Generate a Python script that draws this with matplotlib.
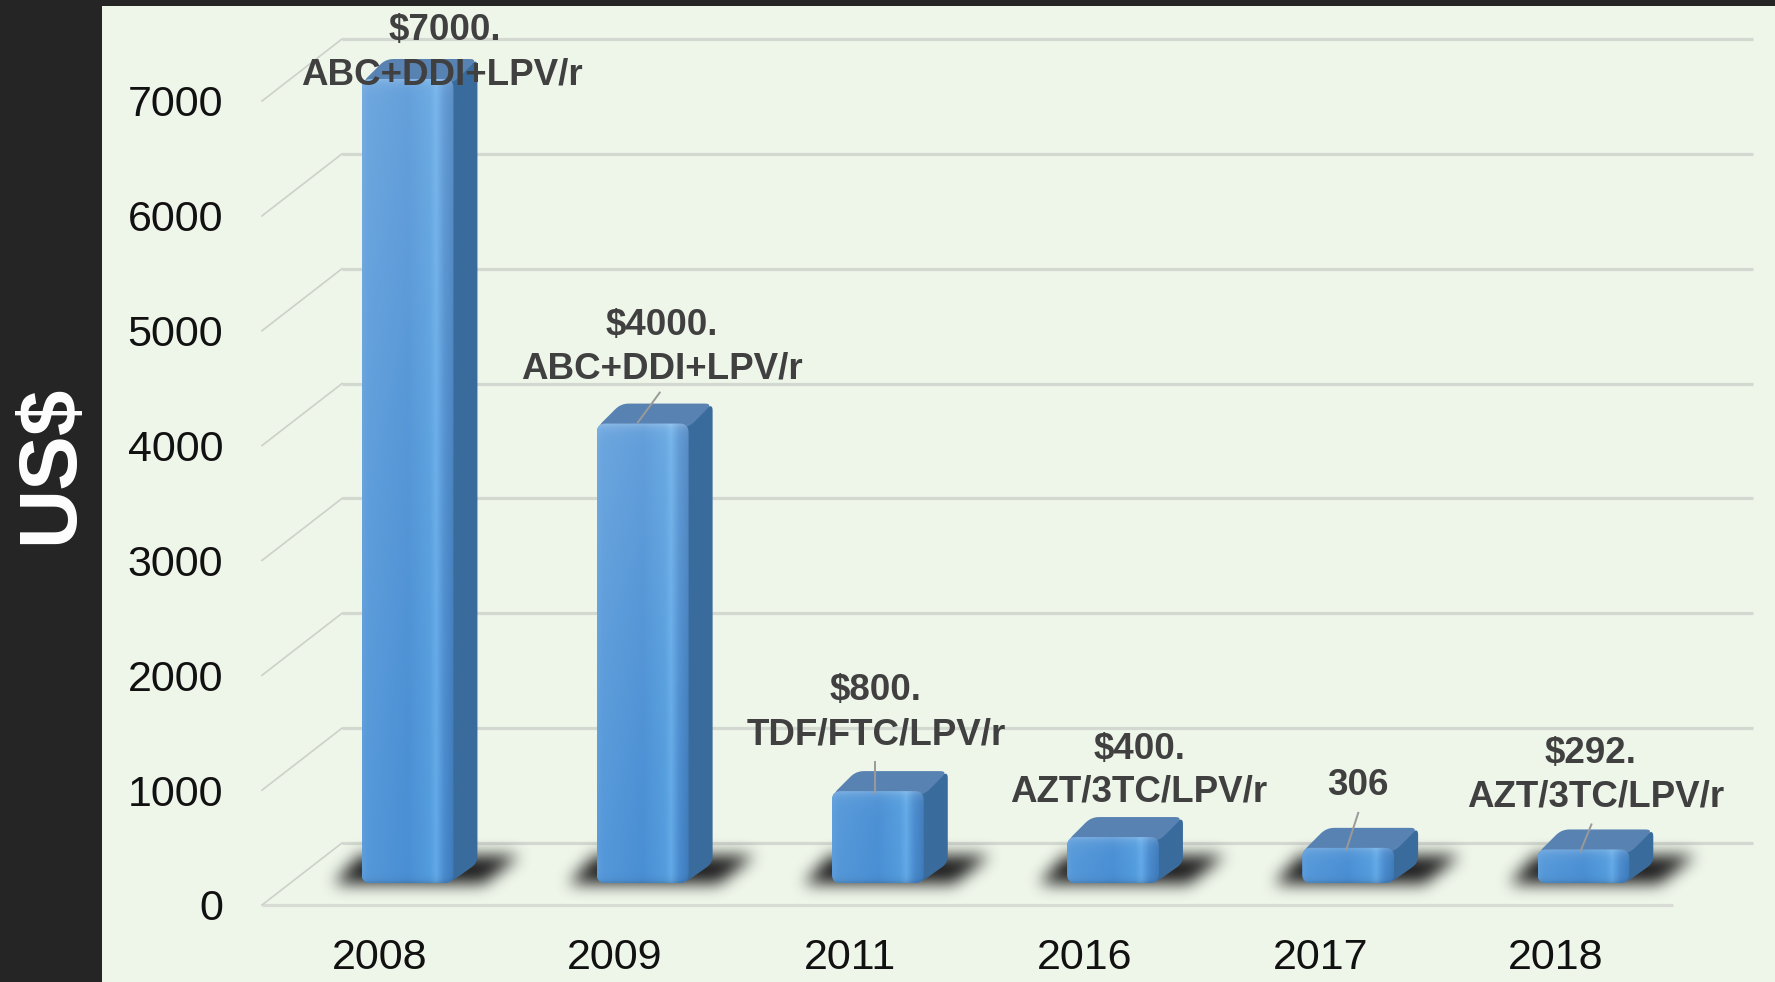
import numpy as np
import matplotlib
matplotlib.use("Agg")
import matplotlib.pyplot as plt
from matplotlib.transforms import ScaledTranslation
from matplotlib.patches import Polygon, Rectangle
from matplotlib.path import Path
from matplotlib.colors import to_rgb

# ---------------- data ----------------
years = ["2008", "2009", "2011", "2016", "2017", "2018"]
prices = [7000, 4000, 800, 400, 306, 292]
price_labels = ["$7000.", "$4000.", "$800.", "$400.", "306", "$292."]
regimens = ["ABC+DDI+LPV/r", "ABC+DDI+LPV/r", "TDF/FTC/LPV/r",
            "AZT/3TC/LPV/r", "", "AZT/3TC/LPV/r"]
y_ticks = [0, 1000, 2000, 3000, 4000, 5000, 6000, 7000]
y_title = "US$"

# ---------------- layout (image pixels, y down) ----------------
line1_off = [(65, -70), (47, -120), (26, -123), (54, -110), (38, -84), (35, -118)]
line2_off = [(62, -26), (47, -77), (26, -78), (54, -67), None, (40, -74)]
leader_off = [None, ((45, -53), (23, -23)), ((25, -51), (25, -20)), None,
              ((38, -57), (26, -20)), ((36, -47), (25, -20))]

plt.rcParams['font.family'] = ['Liberation Sans', 'DejaVu Sans']

W, H, DPI = 1775, 982, 100
fig = plt.figure(figsize=(W / DPI, H / DPI), dpi=DPI, facecolor="#252525")
fig.add_artist(Rectangle((102 / W, 0), 1 - 102 / W, 1 - 6 / H,
                         transform=fig.transFigure, facecolor="#EEF5E9",
                         edgecolor="none", zorder=-10))

ax = fig.add_axes([262 / W, 1 - 905 / H, 1411 / W, 804 / H])
ax.set_xlim(-0.5, 5.5)
ax.set_ylim(0, 7000)
ax.set_autoscale_on(False)
ax.patch.set_visible(False)
for s in ax.spines.values():
    s.set_visible(False)


def off(dx, dy):
    """data transform shifted by dx,dy image pixels (y down)."""
    return ax.transData + ScaledTranslation(dx / DPI, -dy / DPI, fig.dpi_scale_trans)


inv = ax.transData.inverted()


def P(x, y, dx=0.0, dy=0.0):
    p = ax.transData.transform((x, y))
    return np.array([p[0] + dx, p[1] - dy])


def to_data(pts):
    return inv.transform(np.asarray(pts, dtype=float))


def round_poly(pts, r, n=8):
    pts = np.asarray(pts, dtype=float)
    out = []
    N = len(pts)
    for k in range(N):
        p0, p1, p2 = pts[k - 1], pts[k], pts[(k + 1) % N]
        v1, v2 = p0 - p1, p2 - p1
        l1, l2 = np.hypot(*v1), np.hypot(*v2)
        rr = min(r, l1 / 2, l2 / 2)
        a = p1 + v1 / l1 * rr
        b = p1 + v2 / l2 * rr
        for s in np.linspace(0, 1, n):
            out.append((1 - s) ** 2 * a + 2 * (1 - s) * s * p1 + s ** 2 * b)
    return np.array(out)


WALL = (80, -62)
BAR_SHIFT = (28, -22)
BAR_DEPTH = (24, -20)
bar_w = 0.39

# ---------------- walls ----------------
grid_c = "#D3D8D0"
ax.hlines(y_ticks, -0.5, 5.5, colors=grid_c, linewidth=2.3,
          transform=off(*WALL), clip_on=False, zorder=1)
ax.hlines([0], -0.5, 5.5, colors="#D8DCD5", linewidth=2.3, clip_on=False, zorder=1)
for yv in y_ticks:
    d = to_data([P(-0.5, yv), P(-0.5, yv, *WALL)])
    ax.plot(d[:, 0], d[:, 1], color="#CDD1CA", linewidth=1.2, clip_on=False, zorder=1)

# ---------------- ticks ----------------
x = np.arange(len(years))
ax.set_xticks(x, years)
ax.set_yticks(y_ticks, [str(t) for t in y_ticks])
ax.tick_params(length=0, labelsize=31, labelcolor="#111111")
ax.tick_params(axis='y', pad=28)
ax.tick_params(axis='x', pad=24)

fig.text(51 / W, 1 - 464 / H, y_title, rotation=90, color="white", fontsize=59,
         fontweight="bold", ha="center", va="center")


def box_blur(a, r, n=3):
    k = np.ones(2 * r + 1) / (2 * r + 1)
    for _ in range(n):
        a = np.apply_along_axis(lambda m: np.convolve(m, k, mode="same"), 0, a)
        a = np.apply_along_axis(lambda m: np.convolve(m, k, mode="same"), 1, a)
    return a


def hex_arr(cols):
    return np.array([to_rgb(c) for c in cols])


fx_stops = [0, 0.06, 0.5, 0.74, 0.81, 0.9, 1.0]
fx_cols = hex_arr(["#5E9DDB", "#5598D9", "#4A8FD4", "#539CDD", "#62A9E7", "#4A8BCE", "#3E7BBB"])

bars = ax.bar(x, prices, width=bar_w, transform=off(*BAR_SHIFT),
              color="#4A8FD4", zorder=5, clip_on=False, linewidth=0)

for i, (v, rect) in enumerate(zip(prices, bars)):
    BL = P(i - bar_w / 2, 0, *BAR_SHIFT)
    BR = P(i + bar_w / 2, 0, *BAR_SHIFT)
    TR = P(i + bar_w / 2, v, *BAR_SHIFT)
    TL = P(i - bar_w / 2, v, *BAR_SHIFT)
    dep = np.array([BAR_DEPTH[0], -BAR_DEPTH[1]])

    # soft shadow on the floor
    L, R, B = BL[0], BR[0], BL[1]
    poly = np.array([(L - 28, B - 1), (R + 30, B - 1), (R + 66, B + 27), (L - 2, B + 27)])
    x0, x1 = int(L - 80), int(R + 120)
    y0, y1 = int(B - 35), int(B + 65)
    xs = np.arange(x0, x1) + 0.5
    ys = np.arange(y1, y0, -1) - 0.5
    XX, YY = np.meshgrid(xs, ys)
    mask = Path(poly).contains_points(np.c_[XX.ravel(), YY.ravel()]).reshape(XX.shape).astype(float)
    sh = box_blur(mask, 7, 3)
    rgba = np.zeros(sh.shape + (4,))
    rgba[..., :3] = 0.15
    rgba[..., 3] = np.clip(sh * 1.05, 0, 1)
    c0 = to_data([(x0, y0), (x1, y1)])
    ax.imshow(rgba, extent=(c0[0, 0], c0[1, 0], c0[0, 1], c0[1, 1]), origin="upper",
              aspect="auto", interpolation="bilinear", zorder=3, clip_on=False)

    # rounded outline of front face used as clip
    front_round = Polygon(to_data(round_poly([BL, BR, TR, TL], 9)), closed=True,
                          transform=ax.transData)
    rect.set_clip_on(True)
    rect.set_clip_path(front_round)
    rect.set_clip_box(fig.bbox)

    hpx = max(int(TL[1] - BL[1]), 2)
    wpx = max(int(BR[0] - BL[0]), 2)
    u = np.linspace(0, 1, wpx)
    row = np.stack([np.interp(u, fx_stops, fx_cols[:, k]) for k in range(3)], axis=-1)
    rpx = np.arange(hpx)
    t = rpx / max(hpx - 1, 1)
    light = 0.15 * (1 - t) ** 1.3 * min(hpx / 500, 1) + 0.2 * np.exp(-rpx / 5.0)
    dark = 0.12 * np.exp(-(hpx - 1 - rpx) / 3.0)
    img = row[None, :, :] * (1 - light[:, None, None]) + light[:, None, None]
    img = np.clip(img * (1 - dark[:, None, None]), 0, 1)
    im = ax.imshow(img, extent=(i - bar_w / 2, i + bar_w / 2, 0, v), origin="upper",
                   aspect="auto", interpolation="bilinear", transform=off(*BAR_SHIFT),
                   zorder=5.1)
    im.set_clip_on(True)
    im.set_clip_path(front_round)
    im.set_clip_box(fig.bbox)

    # side face
    side = round_poly([BR + np.array([-4, 0]), TR + np.array([-4, 0]), TR + dep, BR + dep], 7)
    ax.add_patch(Polygon(to_data(side), closed=True, facecolor="#3A6B9D", edgecolor="none",
                         zorder=5, clip_on=False))
    # top face
    top = round_poly([TL + np.array([0, -4]), TR + np.array([0, -4]), TR + dep, TL + dep], 8)
    ax.add_patch(Polygon(to_data(top), closed=True, facecolor="#5882B1", edgecolor="none",
                         zorder=5, clip_on=False))

    # labels
    tx, ty = line1_off[i]
    ax.text(i, v, price_labels[i], transform=off(tx, ty), ha="center", va="center",
            fontsize=26.5, fontweight="bold", color="#404040", zorder=10)
    if line2_off[i] is not None and regimens[i]:
        tx, ty = line2_off[i]
        ax.text(i, v, regimens[i], transform=off(tx, ty), ha="center", va="center",
                fontsize=26.5, fontweight="bold", color="#404040", zorder=10)
    if leader_off[i] is not None:
        (sx, sy), (ex, ey) = leader_off[i]
        d = to_data([P(i, v, sx, sy), P(i, v, ex, ey)])
        ax.plot(d[:, 0], d[:, 1], color="#9A9A9A", linewidth=1.4, clip_on=False, zorder=9)

ax.set_xlim(-0.5, 5.5)
ax.set_ylim(0, 7000)

fig.savefig("out.png", dpi=DPI, facecolor=fig.get_facecolor())
